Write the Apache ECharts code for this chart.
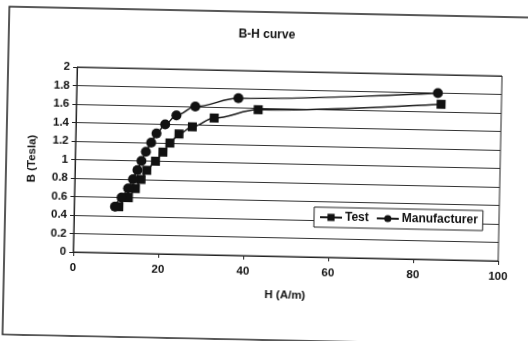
<!DOCTYPE html>
<html><head><meta charset="utf-8">
<script src="https://cdn.jsdelivr.net/npm/echarts@6/dist/echarts.min.js"></script>
<style>
html,body{margin:0;padding:0;background:#fff;overflow:hidden}
#c{width:528px;height:341px;transform:rotate(1.2deg);}
</style></head><body><div id="c"></div>
<script>
const testH = [10.5, 12.7, 14.3, 15.6, 16.9, 18.9, 20.6, 22.2, 24.3, 27.4, 32.5, 42.8, 85.8];
const testB = [0.5, 0.6, 0.7, 0.8, 0.9, 1.0, 1.1, 1.2, 1.3, 1.38, 1.48, 1.58, 1.68];
const mfrH = [9.6, 11.1, 12.6, 13.7, 14.7, 15.6, 16.6, 17.8, 19.0, 21.0, 23.6, 28.0, 38.1, 85.0];
const mfrB = [0.5, 0.6, 0.7, 0.8, 0.9, 1.0, 1.1, 1.2, 1.3, 1.4, 1.5, 1.6, 1.7, 1.8];
const xTicks = [0, 20, 40, 60, 80, 100];
const yTicks = [0, 0.2, 0.4, 0.6, 0.8, 1, 1.2, 1.4, 1.6, 1.8, 2];
const seriesNames = ['Test', 'Manufacturer'];
const titleText = 'B-H curve';
const xName = 'H (A/m)';
const yName = 'B (Tesla)';

const font = 'Liberation Sans, Arial, sans-serif';
const chart = echarts.init(document.getElementById('c'), null, {renderer: 'canvas'});
const pair = (xs, ys) => xs.map((x, i) => [x, ys[i]]);
chart.setOption({
  animation: false,
  backgroundColor: '#fff',
  title: {text: titleText, left: 'center', top: 24,
    textStyle: {fontFamily: font, fontSize: 12, fontWeight: 'bold', color: '#111'}},
  graphic: [{type: 'rect', shape: {x: 6, y: 12, width: 540, height: 328},
    style: {fill: 'none', stroke: '#222', lineWidth: 1.5}, silent: true}],
  grid: {left: 75, right: 28, top: 71, bottom: 85, show: true, borderColor: '#222', borderWidth: 1, backgroundColor: 'transparent'},
  legend: {
    data: seriesNames, left: 315, top: 206, orient: 'horizontal',
    backgroundColor: '#fff', borderColor: '#222', borderWidth: 1, padding: [4, 5],
    itemWidth: 22, itemHeight: 9, itemGap: 7,
    textStyle: {fontFamily: font, fontSize: 12, fontWeight: 'bold', color: '#111', padding: [0,0,0,-2]}
  },
  xAxis: {
    type: 'value', min: xTicks[0], max: xTicks[xTicks.length - 1], interval: xTicks[1] - xTicks[0],
    name: xName, nameLocation: 'middle', nameGap: 33,
    nameTextStyle: {fontFamily: font, fontSize: 11.5, fontWeight: 'bold', color: '#111'},
    axisLine: {show: true, lineStyle: {color: '#222', width: 1}},
    axisTick: {show: true, inside: false, length: 4, lineStyle: {color: '#222'}},
    axisLabel: {fontFamily: font, fontSize: 11.5, fontWeight: 'bold', color: '#111', margin: 10},
    splitLine: {show: false}
  },
  yAxis: {
    type: 'value', min: yTicks[0], max: yTicks[yTicks.length - 1], interval: yTicks[1] - yTicks[0],
    name: yName, nameLocation: 'middle', nameGap: 37, nameRotate: 90,
    nameTextStyle: {fontFamily: font, fontSize: 11.5, fontWeight: 'bold', color: '#111'},
    axisLine: {show: true, lineStyle: {color: '#222', width: 1}},
    axisTick: {show: true, inside: false, length: 4, lineStyle: {color: '#222'}},
    axisLabel: {fontFamily: font, fontSize: 11.5, fontWeight: 'bold', color: '#111', margin: 7},
    splitLine: {show: true, lineStyle: {color: '#333', width: 1}}
  },
  series: [
    {name: seriesNames[0], type: 'line', data: pair(testH, testB), smooth: 0.35, smoothMonotone: 'x',
      symbol: 'rect', symbolSize: 9,
      lineStyle: {color: '#1a1a1a', width: 1.5}, itemStyle: {color: '#111', borderWidth: 0}},
    {name: seriesNames[1], type: 'line', data: pair(mfrH, mfrB), smooth: 0.35, smoothMonotone: 'x',
      symbol: 'circle', symbolSize: 10,
      lineStyle: {color: '#1a1a1a', width: 1.5}, itemStyle: {color: '#111', borderWidth: 0}}
  ]
});
</script></body></html>
